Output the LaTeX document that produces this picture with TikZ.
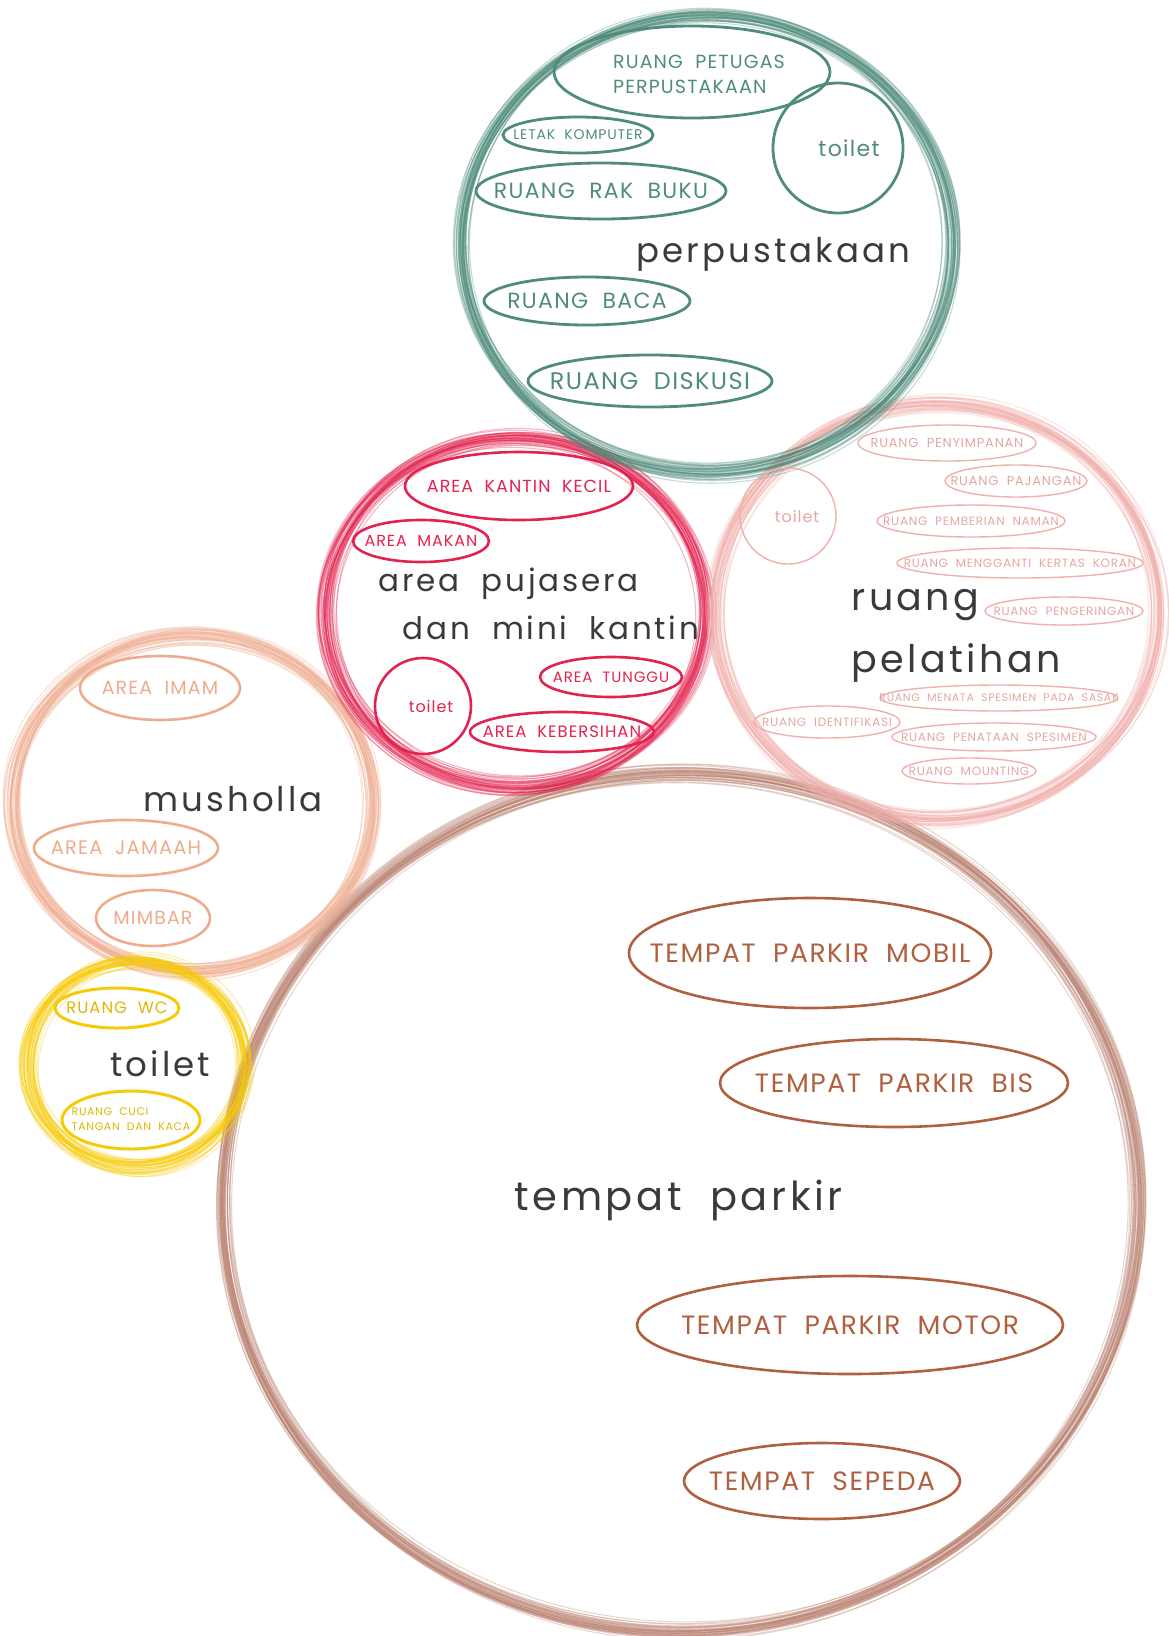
\documentclass[tikz,border=0pt]{standalone}
\usepackage{fontspec}
\setmainfont{Poppins}
\newfontfamily\capfont{Poppins}[LetterSpace=6,WordSpace=2]
\newfontfamily\bigfont{Poppins}[LetterSpace=9,WordSpace=2]
\usetikzlibrary{shapes.geometric}

\definecolor{cTeal}{HTML}{4F8C7C}
\definecolor{cPink}{HTML}{F0B0AC}
\definecolor{cRed}{HTML}{E2234F}
\definecolor{cSalmon}{HTML}{EEAC8F}
\definecolor{cYellow}{HTML}{F6CA08}
\definecolor{cBrown}{HTML}{B0603F}
\definecolor{cBrownRing}{HTML}{B9806F}
\definecolor{cInk}{HTML}{3A3A3A}

% hand-brushed ring: many loose thin ellipses around a centre
\newcommand\brushring[5]{%
  \pgfmathsetseed{#5}%
  \foreach \k in {1,...,44}{%
    \pgfmathsetmacro\bdx{6*rand}%
    \pgfmathsetmacro\bdy{6*rand}%
    \pgfmathsetmacro\brx{#2+5*rand}%
    \pgfmathsetmacro\bry{#3+5*rand}%
    \draw[#4, line width=1.1pt, opacity=0.32]
      ([shift={(\bdx,\bdy)}]#1) ellipse [x radius=\brx, y radius=\bry];
  }}

% label text that takes no room, so each ellipse keeps its own size
\newcommand\fx[1]{\makebox[0pt]{\smash{\raisebox{\dimexpr(\depth-\height)/2\relax}{#1}}}}
\newcommand\twoline[2]{\begin{tabular}{@{}l@{}}#1\\#2\end{tabular}}

\tikzset{
  room/.style={ellipse, draw, inner sep=0pt},
  tl/.style={room, draw=cTeal, text=cTeal, line width=2.8pt},
  pk/.style={room, draw=cPink, text=cPink!95!black, line width=1.4pt},
  rd/.style={room, draw=cRed, text=cRed, line width=2.6pt},
  sm/.style={room, draw=cSalmon, text=cSalmon, line width=2.6pt},
  yl/.style={room, draw=cYellow, text=cYellow!90!black, line width=3pt},
  br/.style={room, draw=cBrown, text=cBrown, line width=2.6pt},
  fs/.style={font=\capfont\fontsize{#1}{#1}\selectfont},
  big/.style={text=cInk, anchor=base west, align=left,
    font=\bigfont\fontsize{#1}{#1}\selectfont},
}

\begin{document}
\begin{tikzpicture}[x=1pt,y=-1pt]
\useasboundingbox (0,0) rectangle (1168,1636);

% ---- zone centres ----
\coordinate (pust) at (707,245);
\coordinate (pelat) at (937,612);
\coordinate (puja) at (516,612);
\coordinate (mush) at (192,803);
\coordinate (wc) at (137,1065);
\coordinate (park) at (680,1203);

% ---- zone rings ----
\brushring{park}{457}{429}{cBrownRing}{11}
\brushring{mush}{180}{168}{cSalmon}{12}
\brushring{wc}{109}{103}{cYellow}{13}
\brushring{puja}{190}{174}{cRed}{14}
\brushring{pelat}{222}{208}{cPink}{15}
\brushring{pust}{245}{228}{cTeal}{16}

% ---- perpustakaan ----
\node[big=34] (pustT) at (633,262) {perpustakaan};
\node[tl, fs=19, minimum width=276, minimum height=92] (petugas) at (692,72)
  {\raisebox{-8pt}{\fx{\fontsize{19}{25}\selectfont\hspace*{14pt}\twoline{RUANG PETUGAS}{PERPUSTAKAAN}}}};
\node[tl, circle, font=\capfont\fontsize{22}{22}\selectfont, minimum size=130] (pToilet) at (838,148) {\fx{\hspace*{22pt}toilet}};
\node[tl, fs=14, minimum width=150, minimum height=36] (komp) at (578,135) {\fx{LETAK KOMPUTER}};
\node[tl, fs=22, minimum width=250, minimum height=56] (rak) at (601,191) {\fx{RUANG RAK BUKU}};
\node[tl, fs=22, minimum width=206, minimum height=48] (baca) at (587,301) {\fx{RUANG BACA}};
\node[tl, fs=24, minimum width=244, minimum height=52] (disk) at (650,381) {\fx{RUANG DISKUSI}};

% ---- ruang pelatihan ----
\node[big=38] (pelatT) at (848,672) {ruang\\[21pt]pelatihan};
\node[pk, fs=13, minimum width=178, minimum height=36] (simpan) at (947,443) {\fx{RUANG PENYIMPANAN}};
\node[pk, fs=13, minimum width=142, minimum height=32] (pajang) at (1016,481) {\fx{RUANG PAJANGAN}};
\node[pk, circle, font=\capfont\fontsize{16}{16}\selectfont, minimum size=96] (lToilet) at (788,516) {\fx{\hspace*{18pt}toilet}};
\node[pk, fs=12, minimum width=188, minimum height=32] (nama) at (971,521) {\fx{RUANG PEMBERIAN NAMAN}};
\node[pk, fs=12, minimum width=246, minimum height=30] (koran) at (1020,563) {\fx{RUANG MENGGANTI KERTAS KORAN}};
\node[pk, fs=12, minimum width=158, minimum height=28] (kering) at (1064,611) {\fx{RUANG PENGERINGAN}};
\node[pk, fs=11, minimum width=238, minimum height=26] (sasak) at (999,698) {\fx{RUANG MENATA SPESIMEN PADA SASAK}};
\node[pk, fs=12, minimum width=146, minimum height=32] (ident) at (827,722) {\fx{RUANG IDENTIFIKASI}};
\node[pk, fs=12, minimum width=204, minimum height=28] (tata) at (994,737) {\fx{RUANG PENATAAN SPESIMEN}};
\node[pk, fs=12, minimum width=134, minimum height=26] (mount) at (969,771) {\fx{RUANG MOUNTING}};

% ---- area pujasera ----
\node[big=31] (pujaT) at (375,639) {area pujasera\\[15pt]\hspace*{24pt}dan mini kantin};
\node[rd, fs=17.5, minimum width=228, minimum height=68] (kantin) at (519,486) {\fx{AREA KANTIN KECIL}};
\node[rd, fs=16, minimum width=136, minimum height=42] (makan) at (421,541) {\fx{AREA MAKAN}};
\node[rd, fs=15, minimum width=142, minimum height=40] (tunggu) at (611,677) {\fx{AREA TUNGGU}};
\node[rd, circle, font=\capfont\fontsize{16}{16}\selectfont, minimum size=96] (kToilet) at (423,706) {\fx{\hspace*{16pt}toilet}};
\node[rd, fs=16.5, minimum width=184, minimum height=40] (bersih) at (562,732) {\fx{AREA KEBERSIHAN}};

% ---- musholla ----
\node[big=34] (mushT) at (140,811) {musholla};
\node[sm, fs=19, minimum width=160, minimum height=64] (imam) at (160,688) {\fx{AREA IMAM}};
\node[sm, fs=19.5, minimum width=184, minimum height=56] (jamaah) at (126,848) {\fx{AREA JAMAAH}};
\node[sm, fs=19, minimum width=114, minimum height=56] (mimbar) at (153,918) {\fx{MIMBAR}};

% ---- toilet ----
\node[big=34] (wcT) at (107,1076) {toilet};
\node[yl, fs=16.5, minimum width=124, minimum height=40] (ruangwc) at (117,1008) {\fx{RUANG WC}};
\node[yl, fs=11, minimum width=138, minimum height=58] (cuci) at (131,1120)
  {\fx{\fontsize{11}{15}\selectfont\twoline{RUANG CUCI}{TANGAN DAN KACA}}};

% ---- tempat parkir ----
\node[big=40] (parkT) at (511,1210) {tempat parkir};
\node[br, fs=26.5, minimum width=362, minimum height=110] (mobil) at (810,953) {\fx{TEMPAT PARKIR MOBIL}};
\node[br, fs=26.5, minimum width=348, minimum height=88] (bis) at (894,1083) {\fx{TEMPAT PARKIR BIS}};
\node[br, fs=26.5, minimum width=426, minimum height=98] (motor) at (850,1325) {\fx{TEMPAT PARKIR MOTOR}};
\node[br, fs=26.5, minimum width=276, minimum height=76] (sepeda) at (822,1481) {\fx{TEMPAT SEPEDA}};
\end{tikzpicture}
\end{document}
